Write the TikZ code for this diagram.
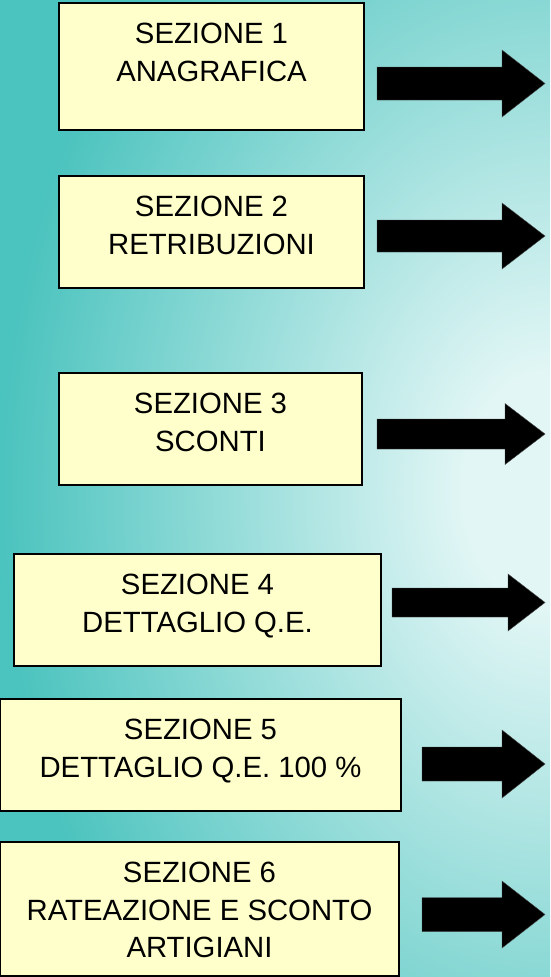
\documentclass[tikz,border=0pt]{standalone}
\usepackage{fontspec}
\setmainfont{Liberation Sans}
\definecolor{bgteal}{RGB}{75,195,190}
\definecolor{bglight}{RGB}{225,246,245}
\definecolor{boxyellow}{RGB}{255,255,204}
\pgfdeclareradialshading{bgshade}{\pgfpoint{0bp}{0bp}}{color(0bp)=(bglight); color(4bp)=(bglight); color(25bp)=(bgteal); color(50bp)=(bgteal)}
\newcommand{\blockarrow}[6]{%
  \fill[arrowfill] (#1,#4-#5) -- (#2,#4-#5) -- (#2,#4-#6) -- (#3,#4) -- (#2,#4+#6) -- (#2,#4+#5) -- (#1,#4+#5) -- cycle;}
\begin{document}
\begin{tikzpicture}[x=1pt,y=-1pt,
  box/.style={draw=black, line width=1.5pt, fill=boxyellow, inner sep=0pt, outer sep=0pt},
  lbl/.style={font=\fontsize{29.3}{37.5}\selectfont, align=center, inner sep=0pt, anchor=north, text=black},
  arrowfill/.style={fill=black, draw=black!70, line width=0.4pt}]
\useasboundingbox (0,0) rectangle (550,977);
\begin{scope}
  \clip (0,0) rectangle (550,977);
  \shade[shading=bgshade] (0,-260) rectangle (1100,1240);
\end{scope}

\node[box, minimum width=305pt, minimum height=127pt] (b1) at (211.5,66.5) {};
\node[lbl] (t1) at ([yshift=-20pt]b1.north) {SEZIONE 1\\ANAGRAFICA};

\node[box, minimum width=305pt, minimum height=112pt] (b2) at (211.5,232) {};
\node[lbl] (t2) at ([yshift=-20pt]b2.north) {SEZIONE 2\\RETRIBUZIONI};

\node[box, minimum width=303pt, minimum height=112pt] (b3) at (210.5,429) {};
\node[lbl] (t3) at ([yshift=-20pt]b3.north) {SEZIONE 3\\SCONTI};

\node[box, minimum width=367pt, minimum height=112pt] (b4) at (197.5,610) {};
\node[lbl] (t4) at ([yshift=-20pt]b4.north) {SEZIONE 4\\DETTAGLIO Q.E.};

\node[box, minimum width=401pt, minimum height=112pt] (b5) at (200.5,755) {};
\node[lbl] (t5) at ([yshift=-20pt]b5.north) {SEZIONE 5\\DETTAGLIO Q.E. 100 \%};

\node[box, minimum width=399pt, minimum height=134pt] (b6) at (199.5,909) {};
\node[lbl] (t6) at ([yshift=-20pt]b6.north) {SEZIONE 6\\RATEAZIONE E SCONTO\\ARTIGIANI};

\blockarrow{377}{502}{545}{83.5}{16.5}{33.5}
\blockarrow{377}{502}{545}{236}{16}{33}
\blockarrow{377}{505}{545}{434}{15}{30.5}
\blockarrow{392}{508}{545}{602.5}{14.5}{28.5}
\blockarrow{422}{502}{545}{764}{17}{34}
\blockarrow{422}{502}{545}{914.5}{17}{33.5}
\end{tikzpicture}
\end{document}
